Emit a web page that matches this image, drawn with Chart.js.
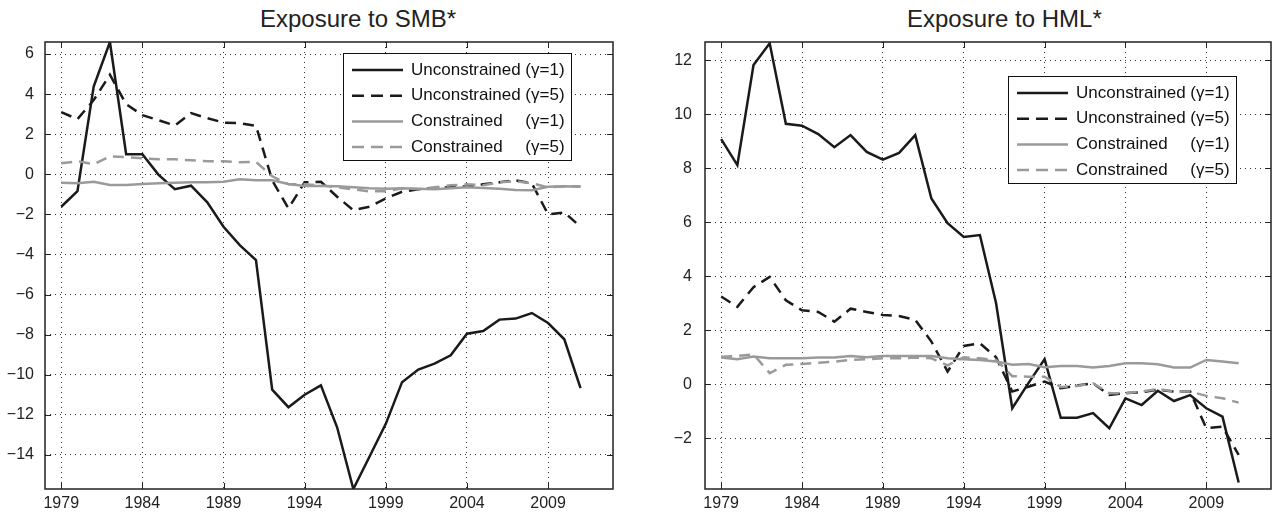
<!DOCTYPE html>
<html lang="en">
<head>
<meta charset="UTF-8">
<title>Exposure to SMB* / HML*</title>
<style>
    body { margin: 0; background: #fff; width: 1273px; height: 516px; overflow: hidden; position: relative;
           font-family: "Liberation Sans", Arial, sans-serif; }
    .painel { position: absolute; top: 0; height: 516px; }
    .titulo { position: absolute; top: 7px; font-size: 24px; line-height: 24px; color: #222; white-space: nowrap; }
</style>
</head>
<body>
    <div class="titulo" style="left:260px">Exposure to SMB*</div>
    <div class="titulo" style="left:907px">Exposure to HML*</div>
    <div class="painel" style="left:0; width:640px"><canvas id="grafico-smb"></canvas></div>
    <div class="painel" style="left:640px; width:633px"><canvas id="grafico-hml"></canvas></div>

<script src="https://cdn.jsdelivr.net/npm/chart.js"></script>
<script>
    // dados
    var anos = [1979, 1980, 1981, 1982, 1983, 1984, 1985, 1986, 1987, 1988, 1989, 1990, 1991,
        1992, 1993, 1994, 1995, 1996, 1997, 1998, 1999, 2000, 2001, 2002, 2003, 2004, 2005,
        2006, 2007, 2008, 2009, 2010, 2011];
    var ticksAnos = [1979, 1984, 1989, 1994, 1999, 2004, 2009];
    var ticksSmb = [-14, -12, -10, -8, -6, -4, -2, 0, 2, 4, 6];
    var ticksHml = [-2, 0, 2, 4, 6, 8, 10, 12];

    var nomes = ['Unconstrained', 'Unconstrained', 'Constrained', 'Constrained'];
    var gamas = ['(\u03b3=1)', '(\u03b3=5)', '(\u03b3=1)', '(\u03b3=5)'];

    // SMB
    var smbU1 = [-1.62, -0.84, 4.38, 6.6, 1.0, 1.0, -0.03, -0.74, -0.57, -1.4, -2.62, -3.53, -4.28,
        -10.74, -11.62, -11.0, -10.53, -12.62, -15.7, -14.08, -12.45, -10.37, -9.74, -9.45, -9.03,
        -7.95, -7.82, -7.25, -7.2, -6.92, -7.42, -8.23, -10.67];
    var smbU5 = [3.1, 2.75, 3.7, 4.97, 3.5, 2.95, 2.7, 2.43, 3.05, 2.8, 2.58, 2.55, 2.42,
        -0.3, -1.7, -0.4, -0.37, -1.12, -1.79, -1.62, -1.2, -0.87, -0.75, -0.7, -0.63,
        -0.6, -0.5, -0.4, -0.3, -0.45, -2.0, -1.9, -2.62];
    var smbC1 = [-0.42, -0.45, -0.37, -0.53, -0.53, -0.48, -0.45, -0.42, -0.4, -0.4, -0.37, -0.25, -0.3,
        -0.3, -0.48, -0.58, -0.58, -0.6, -0.65, -0.7, -0.72, -0.7, -0.72, -0.75, -0.7,
        -0.65, -0.68, -0.72, -0.78, -0.8, -0.62, -0.6, -0.62];
    var smbC5 = [0.55, 0.65, 0.5, 0.9, 0.85, 0.8, 0.75, 0.75, 0.7, 0.65, 0.65, 0.6, 0.62,
        -0.1, -0.5, -0.5, -0.55, -0.65, -0.75, -0.85, -0.85, -0.7, -0.75, -0.65, -0.55,
        -0.5, -0.55, -0.4, -0.35, -0.45, -0.65, -0.6, -0.6];

    // HML
    var hmlU1 = [9.08, 8.12, 11.83, 12.63, 9.65, 9.58, 9.27, 8.78, 9.23, 8.61, 8.32, 8.57, 9.23,
        6.88, 5.97, 5.46, 5.53, 3.0, -0.89, 0.04, 0.93, -1.24, -1.24, -1.07, -1.63,
        -0.52, -0.77, -0.24, -0.62, -0.4, -0.89, -1.2, -3.64];
    var hmlU5 = [3.25, 2.87, 3.6, 3.98, 3.11, 2.74, 2.68, 2.32, 2.8, 2.68, 2.57, 2.53, 2.39,
        1.58, 0.47, 1.42, 1.52, 1.0, -0.27, -0.09, 0.1, -0.15, -0.05, 0.04, -0.4,
        -0.33, -0.3, -0.2, -0.27, -0.27, -1.63, -1.57, -2.62];
    var hmlC1 = [0.99, 0.93, 1.03, 0.96, 0.96, 0.96, 0.99, 0.99, 1.05, 1.0, 1.05, 1.05, 1.05,
        1.05, 0.96, 0.93, 0.9, 0.84, 0.72, 0.75, 0.63, 0.68, 0.68, 0.62, 0.68,
        0.78, 0.78, 0.74, 0.62, 0.62, 0.9, 0.84, 0.78];
    var hmlC5 = [1.02, 1.05, 1.11, 0.41, 0.72, 0.75, 0.8, 0.84, 0.9, 0.93, 0.96, 0.96, 0.99,
        0.96, 0.7, 1.0, 0.96, 0.9, 0.3, 0.28, 0.28, -0.1, -0.06, 0.04, -0.33,
        -0.33, -0.27, -0.17, -0.27, -0.27, -0.43, -0.52, -0.68];

    var fonte = '"Liberation Sans", Arial, sans-serif';
    var estilos = [
        { cor: '#1a1a1a', traco: [] },
        { cor: '#1a1a1a', traco: [11, 7] },
        { cor: '#9a9a9a', traco: [] },
        { cor: '#9a9a9a', traco: [11, 7] }
    ];

    function montarSeries(listas) {
        return listas.map(function (valores, i) {
            return {
                label: nomes[i] + ' ' + gamas[i],
                data: anos.map(function (ano, j) { return { x: ano, y: valores[j] }; }),
                borderColor: estilos[i].cor,
                borderDash: estilos[i].traco,
                borderWidth: 2.5,
                pointRadius: 0,
                tension: 0,
                fill: false,
                order: 4 - i   // ultima serie por cima, como no original
            };
        });
    }

    // caixa com borda e marcas para dentro (estilo matlab)
    var moldura = {
        id: 'moldura',
        afterDraw: function (chart) {
            var ctx = chart.ctx, a = chart.chartArea;
            var sx = chart.scales.x, sy = chart.scales.y;
            ctx.save();
            ctx.strokeStyle = '#222';
            ctx.lineWidth = 1;
            sx.ticks.forEach(function (t) {
                var px = Math.round(sx.getPixelForValue(t.value)) + 0.5;
                ctx.beginPath();
                ctx.moveTo(px, a.bottom); ctx.lineTo(px, a.bottom - 6);
                ctx.moveTo(px, a.top); ctx.lineTo(px, a.top + 6);
                ctx.stroke();
            });
            sy.ticks.forEach(function (t) {
                var py = Math.round(sy.getPixelForValue(t.value)) + 0.5;
                ctx.beginPath();
                ctx.moveTo(a.left, py); ctx.lineTo(a.left + 6, py);
                ctx.moveTo(a.right, py); ctx.lineTo(a.right - 6, py);
                ctx.stroke();
            });
            ctx.lineWidth = 1.5;
            ctx.strokeRect(a.left, a.top, a.right - a.left, a.bottom - a.top);
            ctx.restore();
        }
    };

    var legendaCaixa = {
        id: 'legendaCaixa',
        afterDraw: function (chart, args, opts) {
            var ctx = chart.ctx, a = chart.chartArea;
            var largura = 228, altura = 107;
            var x0 = Math.round(a.right - opts.direita - largura);
            var y0 = Math.round(a.top + opts.topo);
            ctx.save();
            ctx.fillStyle = '#fff';
            ctx.fillRect(x0, y0, largura, altura);
            ctx.strokeStyle = '#111';
            ctx.lineWidth = 1;
            ctx.strokeRect(x0 + 0.5, y0 + 0.5, largura, altura);
            ctx.font = '17px ' + fonte;
            ctx.textBaseline = 'middle';
            var fimTexto = x0 + 68 + ctx.measureText(nomes[0] + ' ' + gamas[0]).width;
            chart.data.datasets.forEach(function (ds, i) {
                var y = y0 + 17 + i * 25.7;
                ctx.strokeStyle = ds.borderColor;
                ctx.lineWidth = ds.borderWidth;
                ctx.setLineDash(ds.borderDash.length ? [12, 7] : []);
                ctx.beginPath();
                ctx.moveTo(x0 + 9, y);
                ctx.lineTo(x0 + 60, y);
                ctx.stroke();
                ctx.setLineDash([]);
                ctx.fillStyle = '#111';
                ctx.textAlign = 'left';
                ctx.fillText(nomes[i], x0 + 68, y);
                ctx.textAlign = 'right';
                ctx.fillText(gamas[i], fimTexto, y);
            });
            ctx.restore();
        }
    };

    function criarGrafico(id, listas, ticksY, minY, maxY, larguraY, padY, padDireita, legenda) {
        return new Chart(document.getElementById(id), {
            type: 'line',
            data: { datasets: montarSeries(listas) },
            plugins: [moldura, legendaCaixa],
            options: {
                responsive: true,
                maintainAspectRatio: false,
                animation: false,
                layout: { padding: { top: 42, right: padDireita, bottom: 0, left: 0 } },
                plugins: {
                    legend: { display: false },
                    tooltip: { enabled: false },
                    legendaCaixa: legenda
                },
                scales: {
                    x: {
                        type: 'linear',
                        min: 1978,
                        max: 2013,
                        afterBuildTicks: function (s) {
                            s.ticks = ticksAnos.map(function (v) { return { value: v }; });
                        },
                        afterFit: function (s) { s.height = 27; },
                        grid: { color: '#333', lineWidth: 1, drawTicks: false },
                        border: { display: false, dash: [1, 4] },
                        ticks: {
                            color: '#222', padding: 5, maxRotation: 0, autoSkip: false,
                            font: { family: fonte, size: 16 },
                            callback: function (v) { return String(v); }
                        }
                    },
                    y: {
                        min: minY,
                        max: maxY,
                        afterBuildTicks: function (s) {
                            s.ticks = ticksY.map(function (v) { return { value: v }; });
                        },
                        afterFit: function (s) { s.width = larguraY; },
                        grid: { color: '#333', lineWidth: 1, drawTicks: false },
                        border: { display: false, dash: [1, 4] },
                        ticks: {
                            color: '#222', padding: padY,
                            font: { family: fonte, size: 16 },
                            callback: function (v) { return String(v).replace('-', '\u2212'); }
                        }
                    }
                }
            }
        });
    }

    var graficoSmb = criarGrafico('grafico-smb', [smbU1, smbU5, smbC1, smbC5],
        ticksSmb, -15.7, 6.6, 45, 11, 27, { direita: 42, topo: 11 });
    var graficoHml = criarGrafico('grafico-hml', [hmlU1, hmlU5, hmlC1, hmlC5],
        ticksHml, -3.88, 12.68, 65, 13, 2, { direita: 35, topo: 34 });
</script>
</body>
</html>
